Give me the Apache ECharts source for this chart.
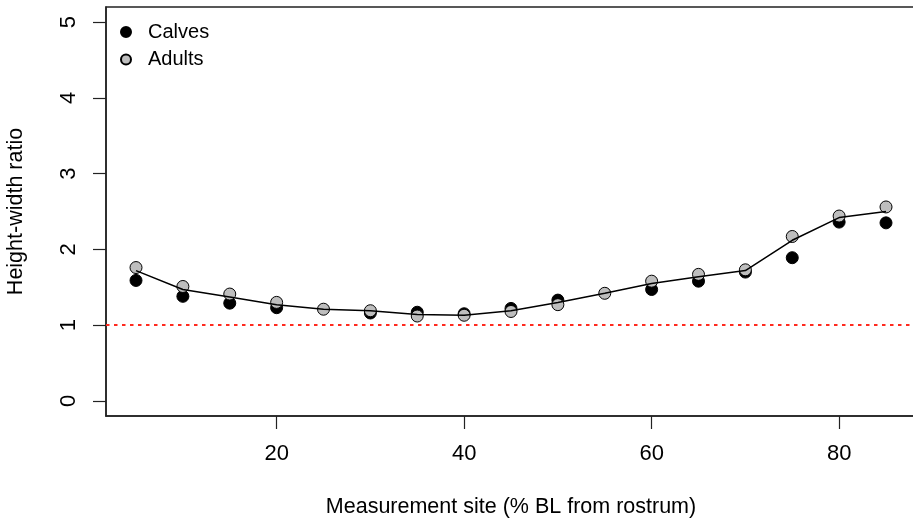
<!DOCTYPE html>
<html>
<head>
<meta charset="utf-8">
<style>
  html, body { margin: 0; padding: 0; background: #ffffff; }
  #chart { width: 913px; height: 522px; }
</style>
<script src="https://cdn.jsdelivr.net/npm/echarts@6/dist/echarts.min.js"></script>
</head>
<body>
<div id="chart"></div>
<script>
// Measurement sites (% BL from rostrum)
const sites = [5, 10, 15, 20, 25, 30, 35, 40, 45, 50, 55, 60, 65, 70, 75, 80, 85];
// Height-width ratio, calves (null = not visible in the figure)
const calves = [1.59, 1.38, 1.29, 1.23, null, 1.16, 1.17, 1.15, 1.22, 1.33, null, 1.47, 1.58, 1.70, 1.89, 2.36, 2.35];
// Height-width ratio, adults
const adults = [1.76, 1.51, 1.41, 1.30, 1.21, 1.19, 1.12, 1.13, 1.18, 1.27, 1.42, 1.58, 1.67, 1.73, 2.17, 2.44, 2.56];
// Fitted line
const fit = [1.72, 1.47, 1.37, 1.27, 1.21, 1.19, 1.14, 1.13, 1.19, 1.30, 1.42, 1.55, 1.64, 1.72, 2.12, 2.42, 2.50];
// Tick labels
const xTicks = [20, 40, 60, 80];
const yTicks = [0, 1, 2, 3, 4, 5];
const refLevel = 1;

const FONT = 'Liberation Sans, Arial, Helvetica, sans-serif';
const pairs = (ys) => sites.map((x, i) => [x, ys[i]]).filter(p => p[1] !== null);

const chart = echarts.init(document.getElementById('chart'), null, { renderer: 'canvas' });
chart.setOption({
  animation: false,
  backgroundColor: '#ffffff',
  textStyle: { fontFamily: FONT, color: '#000' },
  grid: {
    left: 106, top: 7, width: 810, height: 409,
    show: true, borderColor: '#222', borderWidth: 1.5,
    outerBoundsMode: 'none', containLabel: false
  },
  legend: {
    orient: 'vertical',
    left: 120, top: 22,
    itemWidth: 10, itemHeight: 10, itemGap: 7.5,
    padding: 0,
    textStyle: { fontSize: 20, fontFamily: FONT, color: '#000', padding: [0, 0, 0, 12] },
    data: ['Calves', 'Adults']
  },
  xAxis: {
    type: 'value',
    min: 1.8, max: 88.2,
    name: 'Measurement site (% BL from rostrum)',
    nameLocation: 'middle',
    nameGap: 80,
    nameTextStyle: { fontSize: 21.5, fontFamily: FONT, color: '#000' },
    axisLine: { show: true, onZero: false, lineStyle: { color: '#222', width: 1.5 } },
    axisTick: { show: true, inside: false, length: 13, customValues: xTicks, lineStyle: { color: '#222', width: 1.2 } },
    axisLabel: { show: true, customValues: xTicks, margin: 27, fontSize: 22, fontFamily: FONT, color: '#000' },
    splitLine: { show: false }
  },
  yAxis: {
    type: 'value',
    min: -0.2, max: 5.2,
    name: 'Height-width ratio',
    nameLocation: 'middle',
    nameGap: 79,
    nameTextStyle: { fontSize: 21.5, fontFamily: FONT, color: '#000' },
    axisLine: { show: true, onZero: false, lineStyle: { color: '#222', width: 1.5 } },
    axisTick: { show: true, inside: false, length: 13, customValues: yTicks, lineStyle: { color: '#222', width: 1.2 } },
    axisLabel: { show: true, customValues: yTicks, rotate: 90, margin: 26, fontSize: 22, fontFamily: FONT, color: '#000' },
    splitLine: { show: false }
  },
  series: [
    {
      name: 'Calves',
      type: 'scatter',
      symbol: 'circle',
      symbolSize: 12,
      itemStyle: { color: '#000000', borderColor: '#000000', borderWidth: 1, opacity: 1 },
      data: pairs(calves),
      z: 3
    },
    {
      name: 'Adults',
      type: 'scatter',
      symbol: 'circle',
      symbolSize: 12,
      itemStyle: { color: '#bebebe', borderColor: '#000000', borderWidth: 1, opacity: 1 },
      data: pairs(adults),
      z: 4
    },
    {
      name: 'fit',
      type: 'line',
      data: pairs(fit),
      showSymbol: false,
      symbol: 'none',
      smooth: false,
      lineStyle: { color: '#000000', width: 1.5 },
      silent: true,
      z: 5,
      markLine: {
        silent: true,
        symbol: ['none', 'none'],
        label: { show: false },
        lineStyle: { color: '#ff2a1f', type: [3.5, 4.5], width: 2 },
        data: [{ yAxis: refLevel }]
      }
    }
  ]
});
</script>
</body>
</html>
